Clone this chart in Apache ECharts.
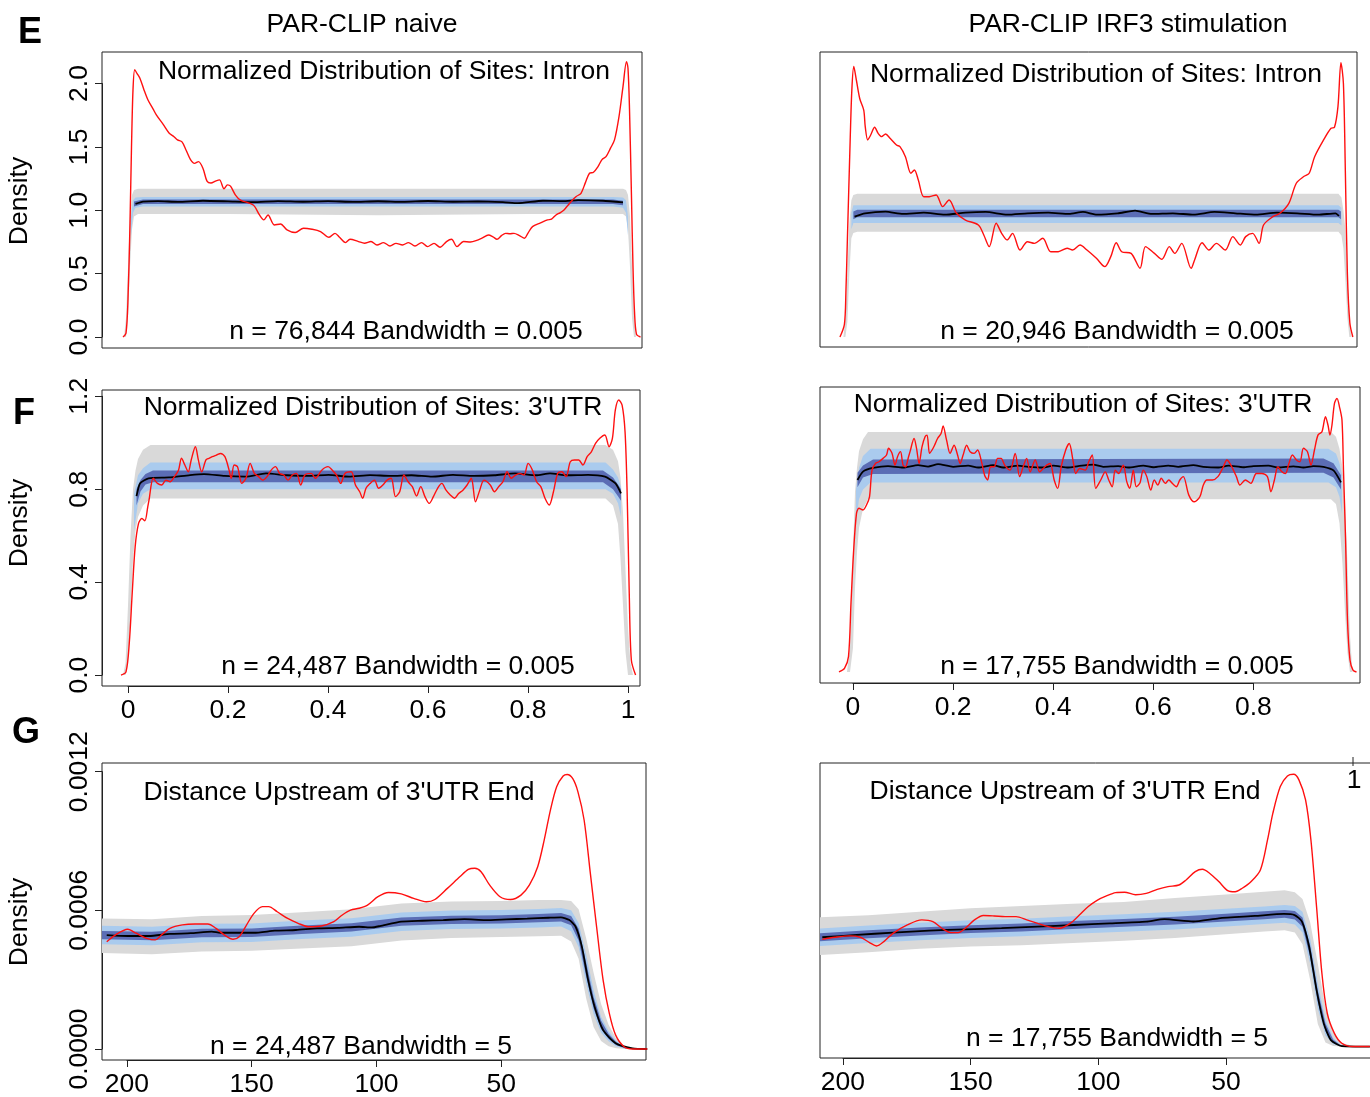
<!DOCTYPE html>
<html><head><meta charset="utf-8">
<script src="https://cdn.jsdelivr.net/npm/echarts@6/dist/echarts.min.js"></script>
<style>html,body{margin:0;padding:0;background:#fff}#c{width:1370px;height:1097px}</style>
</head><body><div id="c"></div>
<script>
// ---------------- DATA ----------------
// Tick labels
const eYTicks = [0, 0.5, 1.0, 1.5, 2.0];
const fYTicks = [0, 0.4, 0.8, 1.2];
const gYTicks = [0, 0.0006, 0.0012];
const fLeftXTicks = [0, 0.2, 0.4, 0.6, 0.8, 1];
const fRightXTicks = [0, 0.2, 0.4, 0.6, 0.8];
const gXTicks = [50, 100, 150, 200];

// E left: Intron, naive
const eLeftRed = [[-0.010,0],[-0.004,0.03],[0.000,0.30],[0.004,0.90],[0.007,1.50],[0.010,1.95],[0.0135,2.11],[0.018,2.08],[0.024,2.04],[0.032,1.95],[0.040,1.87],[0.050,1.80],[0.057,1.75],[0.070,1.68],[0.082,1.61],[0.092,1.58],[0.099,1.555],[0.108,1.54],[0.116,1.476],[0.125,1.40],[0.133,1.37],[0.141,1.384],[0.150,1.33],[0.158,1.23],[0.166,1.215],[0.175,1.23],[0.183,1.24],[0.192,1.17],[0.199,1.20],[0.205,1.19],[0.215,1.12],[0.225,1.08],[0.2505,1.042],[0.263,0.963],[0.2715,0.924],[0.280,0.963],[0.2925,0.884],[0.305,0.892],[0.318,0.845],[0.3345,0.824],[0.351,0.858],[0.368,0.850],[0.385,0.832],[0.402,0.787],[0.414,0.818],[0.423,0.787],[0.435,0.745],[0.444,0.771],[0.461,0.753],[0.473,0.740],[0.486,0.753],[0.498,0.726],[0.511,0.745],[0.524,0.718],[0.536,0.739],[0.549,0.726],[0.561,0.745],[0.574,0.718],[0.587,0.745],[0.599,0.713],[0.612,0.739],[0.624,0.708],[0.637,0.753],[0.647,0.771],[0.658,0.713],[0.671,0.753],[0.685,0.75],[0.696,0.76],[0.708,0.78],[0.721,0.805],[0.730,0.79],[0.738,0.771],[0.747,0.80],[0.755,0.818],[0.764,0.815],[0.772,0.818],[0.783,0.80],[0.793,0.779],[0.800,0.82],[0.809,0.871],[0.825,0.90],[0.839,0.924],[0.847,0.93],[0.856,0.963],[0.864,0.98],[0.872,1.003],[0.880,1.04],[0.889,1.081],[0.897,1.11],[0.906,1.134],[0.915,1.22],[0.923,1.292],[0.931,1.30],[0.940,1.345],[0.948,1.40],[0.956,1.423],[0.965,1.49],[0.973,1.555],[0.982,1.739],[0.990,1.976],[0.997,2.173],[1.000,2.12],[1.003,1.80],[1.007,1.10],[1.010,0.55],[1.013,0.20],[1.017,0.02],[1.025,0]];
const eLeftMean = [[0.015,1.05],[0.03,1.068],[0.06,1.072],[0.1,1.066],[0.15,1.075],[0.2,1.07],[0.25,1.064],[0.3,1.072],[0.35,1.067],[0.4,1.072],[0.45,1.066],[0.5,1.071],[0.55,1.066],[0.6,1.073],[0.65,1.067],[0.7,1.07],[0.75,1.064],[0.78,1.056],[0.83,1.075],[0.87,1.072],[0.9,1.08],[0.95,1.075],[0.99,1.062]];
const eLeftGrey = [[-0.008,0,0],[-0.004,0,0.15],[0,0.15,0.55],[0.004,0.55,0.95],[0.008,0.85,1.12],[0.012,0.95,1.16],[0.02,0.97,1.17],[0.2,0.97,1.17],[0.5,0.96,1.17],[0.8,0.97,1.17],[0.99,0.97,1.17],[0.996,0.95,1.16],[1.000,0.85,1.12],[1.004,0.55,0.95],[1.008,0.15,0.55],[1.012,0,0.15],[1.016,0,0]];
const eLeftLBlue = [[0.006,0.80,0.95],[0.010,0.98,1.08],[0.015,1.02,1.10],[0.03,1.03,1.105],[0.5,1.03,1.105],[0.97,1.03,1.105],[0.99,1.02,1.10],[0.996,0.98,1.08],[1.0,0.80,0.95]];
const eLeftDBlue = [[0.012,1.03,1.07],[0.03,1.05,1.085],[0.97,1.05,1.085],[0.99,1.04,1.075]];

// E right: Intron, IRF3
const eRightRed = [[-0.015,0],[-0.006,0.1],[-0.003,0.35],[0.0,0.77],[0.0056,1.55],[0.009,1.95],[0.0129,2.134],[0.018,2.03],[0.025,1.88],[0.033,1.79],[0.036,1.66],[0.041,1.555],[0.047,1.594],[0.055,1.655],[0.062,1.607],[0.069,1.581],[0.077,1.602],[0.086,1.568],[0.099,1.515],[0.106,1.502],[0.117,1.423],[0.128,1.292],[0.135,1.318],[0.143,1.239],[0.154,1.107],[0.165,1.107],[0.179,1.121],[0.192,1.029],[0.205,1.081],[0.220,0.976],[0.238,0.923],[0.264,0.884],[0.275,0.805],[0.286,0.713],[0.300,0.897],[0.311,0.818],[0.322,0.766],[0.333,0.818],[0.348,0.686],[0.363,0.752],[0.377,0.739],[0.394,0.779],[0.410,0.673],[0.425,0.673],[0.443,0.700],[0.454,0.686],[0.469,0.726],[0.483,0.686],[0.502,0.621],[0.519,0.555],[0.531,0.634],[0.542,0.744],[0.553,0.673],[0.572,0.660],[0.590,0.542],[0.601,0.713],[0.619,0.660],[0.634,0.613],[0.649,0.713],[0.660,0.660],[0.674,0.739],[0.693,0.542],[0.700,0.608],[0.715,0.744],[0.729,0.686],[0.744,0.739],[0.762,0.686],[0.777,0.792],[0.792,0.726],[0.803,0.792],[0.817,0.818],[0.830,0.739],[0.839,0.884],[0.858,0.950],[0.872,0.976],[0.890,1.055],[0.905,1.213],[0.920,1.266],[0.931,1.292],[0.942,1.423],[0.960,1.555],[0.975,1.647],[0.982,1.655],[0.989,1.818],[0.995,2.165],[1.000,2.0],[1.004,1.29],[1.008,0.50],[1.013,0.11],[1.019,0]];
const eRightMean = [[0.0145,0.95],[0.0355,0.976],[0.077,0.989],[0.112,0.971],[0.154,0.981],[0.196,0.965],[0.238,0.981],[0.279,0.987],[0.322,0.965],[0.363,0.976],[0.405,0.981],[0.447,0.971],[0.475,0.987],[0.503,0.965],[0.545,0.976],[0.580,0.997],[0.614,0.971],[0.656,0.976],[0.698,0.965],[0.740,0.987],[0.782,0.976],[0.824,0.965],[0.866,0.981],[0.907,0.976],[0.949,0.965],[0.984,0.976],[0.991,0.955]];
const eRightGrey = [[-0.008,0,0],[-0.004,0,0.15],[0,0.12,0.5],[0.004,0.5,0.9],[0.008,0.78,1.08],[0.012,0.82,1.12],[0.02,0.83,1.13],[0.5,0.83,1.13],[0.99,0.83,1.13],[0.996,0.80,1.10],[1.0,0.7,1.0],[1.004,0.45,0.85],[1.008,0.15,0.5],[1.012,0,0.15],[1.016,0,0]];
const eRightLBlue = [[0.008,0.85,0.98],[0.012,0.90,1.04],[0.99,0.90,1.04],[0.996,0.88,1.02]];
const eRightDBlue = [[0.012,0.93,0.99],[0.02,0.945,1.005],[0.99,0.945,1.005],[0.995,0.93,0.99]];

// F left: 3'UTR, naive
const fLeftRed = [[-0.014,0],[-0.004,0.014],[0.0025,0.136],[0.0084,0.352],[0.0143,0.552],[0.0211,0.653],[0.0278,0.674],[0.0337,0.664],[0.0396,0.725],[0.042,0.753],[0.0505,0.847],[0.059,0.825],[0.0674,0.818],[0.0758,0.839],[0.0842,0.832],[0.0927,0.854],[0.101,0.882],[0.107,0.933],[0.1137,0.904],[0.1205,0.875],[0.1264,0.926],[0.1348,0.983],[0.1407,0.926],[0.1474,0.875],[0.1559,0.926],[0.1618,0.933],[0.1685,0.940],[0.1769,0.947],[0.1853,0.954],[0.1938,0.940],[0.2022,0.882],[0.2064,0.847],[0.2123,0.904],[0.219,0.897],[0.2275,0.825],[0.2359,0.847],[0.2443,0.911],[0.2527,0.868],[0.2612,0.854],[0.2696,0.839],[0.278,0.854],[0.2864,0.882],[0.2949,0.897],[0.3033,0.868],[0.3117,0.861],[0.3201,0.839],[0.3286,0.861],[0.337,0.868],[0.3454,0.818],[0.3538,0.861],[0.3665,0.868],[0.3749,0.847],[0.3875,0.882],[0.4002,0.897],[0.4086,0.882],[0.417,0.861],[0.4254,0.825],[0.4339,0.868],[0.4465,0.875],[0.4549,0.818],[0.4634,0.789],[0.4693,0.761],[0.476,0.804],[0.4844,0.825],[0.4928,0.839],[0.5013,0.804],[0.5097,0.818],[0.5181,0.839],[0.5265,0.847],[0.535,0.768],[0.5434,0.789],[0.5518,0.861],[0.5602,0.832],[0.5687,0.811],[0.5771,0.771],[0.5855,0.811],[0.5939,0.768],[0.6024,0.739],[0.6108,0.768],[0.6192,0.804],[0.6276,0.825],[0.6361,0.796],[0.6445,0.775],[0.6529,0.761],[0.6613,0.782],[0.6698,0.796],[0.6782,0.818],[0.6866,0.847],[0.695,0.746],[0.7035,0.796],[0.7119,0.839],[0.7245,0.818],[0.7329,0.789],[0.7414,0.811],[0.7498,0.832],[0.7582,0.875],[0.7666,0.847],[0.7751,0.861],[0.7835,0.868],[0.7919,0.861],[0.8003,0.911],[0.8088,0.882],[0.8172,0.832],[0.8256,0.811],[0.834,0.761],[0.8425,0.732],[0.8509,0.789],[0.8593,0.868],[0.8677,0.875],[0.8762,0.854],[0.8846,0.918],[0.893,0.926],[0.9014,0.926],[0.9099,0.904],[0.9183,0.940],[0.9267,0.961],[0.9351,0.997],[0.9436,1.019],[0.9537,1.033],[0.9621,0.983],[0.9688,1.019],[0.9747,1.141],[0.9815,1.184],[0.9882,1.162],[0.9941,1.047],[0.9983,0.782],[1.0025,0.352],[1.0067,0.065],[1.0152,0]];
const fLeftMean = [[0.017,0.77],[0.024,0.825],[0.041,0.847],[0.082,0.851],[0.124,0.861],[0.152,0.865],[0.193,0.857],[0.235,0.854],[0.276,0.868],[0.318,0.860],[0.359,0.857],[0.401,0.862],[0.442,0.854],[0.484,0.861],[0.525,0.857],[0.567,0.860],[0.608,0.854],[0.650,0.862],[0.691,0.857],[0.733,0.860],[0.774,0.868],[0.816,0.860],[0.844,0.868],[0.878,0.860],[0.920,0.862],[0.954,0.854],[0.975,0.825],[0.986,0.782]];
const fLeftGrey = [[-0.010,0,0],[-0.005,0,0.05],[0,0.05,0.3],[0.005,0.25,0.6],[0.01,0.5,0.8],[0.015,0.62,0.88],[0.02,0.68,0.93],[0.03,0.73,0.97],[0.045,0.76,0.99],[0.5,0.76,0.99],[0.955,0.76,0.99],[0.97,0.73,0.97],[0.98,0.65,0.92],[0.985,0.5,0.85],[0.99,0.3,0.7],[0.995,0.1,0.45],[1.0,0,0.2],[1.005,0,0.05],[1.01,0,0]];
const fLeftLBlue = [[0.012,0.62,0.78],[0.02,0.74,0.86],[0.03,0.78,0.89],[0.045,0.80,0.915],[0.955,0.80,0.915],[0.97,0.78,0.885],[0.98,0.74,0.85],[0.986,0.68,0.81]];
const fLeftDBlue = [[0.017,0.73,0.80],[0.025,0.79,0.84],[0.035,0.82,0.865],[0.05,0.83,0.88],[0.95,0.83,0.88],[0.97,0.80,0.85],[0.98,0.77,0.82],[0.986,0.75,0.80]];

// F right: 3'UTR, IRF3
const fRightRed = [[-0.028,0],[-0.017,0.015],[-0.009,0.064],[-0.004,0.286],[0.001,0.494],[0.007,0.661],[0.012,0.682],[0.020,0.675],[0.027,0.696],[0.033,0.730],[0.038,0.841],[0.045,0.869],[0.052,0.876],[0.060,0.890],[0.067,0.904],[0.071,0.932],[0.078,0.911],[0.084,0.862],[0.089,0.897],[0.095,0.918],[0.100,0.862],[0.105,0.855],[0.111,0.897],[0.114,0.918],[0.122,0.973],[0.127,0.932],[0.132,0.869],[0.138,0.939],[0.144,0.980],[0.148,0.987],[0.153,0.911],[0.158,0.925],[0.163,0.945],[0.169,0.973],[0.176,0.994],[0.180,1.025],[0.187,0.966],[0.194,0.911],[0.202,0.945],[0.209,0.904],[0.214,0.869],[0.220,0.904],[0.227,0.945],[0.234,0.918],[0.242,0.911],[0.249,0.925],[0.256,0.883],[0.263,0.820],[0.269,0.800],[0.275,0.855],[0.282,0.855],[0.289,0.890],[0.296,0.890],[0.303,0.862],[0.314,0.841],[0.324,0.911],[0.333,0.814],[0.340,0.855],[0.347,0.890],[0.354,0.834],[0.364,0.883],[0.373,0.834],[0.380,0.848],[0.387,0.862],[0.394,0.869],[0.402,0.800],[0.409,0.765],[0.416,0.855],[0.425,0.925],[0.432,0.952],[0.440,0.876],[0.445,0.827],[0.453,0.848],[0.464,0.841],[0.471,0.876],[0.478,0.904],[0.485,0.765],[0.495,0.800],[0.504,0.834],[0.511,0.800],[0.518,0.772],[0.524,0.841],[0.531,0.827],[0.540,0.862],[0.547,0.793],[0.553,0.765],[0.560,0.841],[0.566,0.772],[0.573,0.786],[0.580,0.841],[0.587,0.814],[0.595,0.758],[0.602,0.800],[0.609,0.779],[0.616,0.807],[0.624,0.786],[0.631,0.800],[0.638,0.786],[0.646,0.772],[0.653,0.800],[0.660,0.814],[0.671,0.737],[0.682,0.709],[0.693,0.730],[0.700,0.779],[0.707,0.800],[0.718,0.800],[0.729,0.814],[0.740,0.855],[0.747,0.883],[0.755,0.862],[0.766,0.814],[0.773,0.779],[0.784,0.800],[0.795,0.786],[0.806,0.827],[0.817,0.827],[0.828,0.814],[0.835,0.751],[0.842,0.800],[0.849,0.855],[0.857,0.834],[0.864,0.827],[0.871,0.869],[0.878,0.904],[0.886,0.883],[0.893,0.876],[0.900,0.932],[0.908,0.918],[0.915,0.862],[0.922,0.925],[0.929,0.987],[0.937,1.001],[0.944,1.064],[0.949,1.029],[0.953,0.987],[0.957,1.029],[0.962,1.119],[0.967,1.140],[0.972,1.105],[0.977,1.050],[0.980,0.841],[0.984,0.564],[0.988,0.216],[0.993,0.050],[0.999,0.008],[1.006,0]];
const fRightMean = [[0.009,0.80],[0.02,0.835],[0.04,0.85],[0.07,0.858],[0.1,0.852],[0.13,0.862],[0.15,0.856],[0.17,0.866],[0.2,0.855],[0.23,0.86],[0.25,0.852],[0.28,0.862],[0.3,0.852],[0.33,0.86],[0.35,0.855],[0.38,0.852],[0.4,0.86],[0.43,0.852],[0.45,0.858],[0.48,0.864],[0.5,0.855],[0.53,0.858],[0.55,0.852],[0.58,0.86],[0.6,0.853],[0.63,0.86],[0.65,0.855],[0.68,0.862],[0.7,0.855],[0.73,0.852],[0.75,0.86],[0.78,0.853],[0.8,0.858],[0.83,0.86],[0.85,0.852],[0.88,0.857],[0.9,0.852],[0.92,0.858],[0.94,0.855],[0.96,0.84],[0.975,0.79]];
const fRightGrey = [[-0.012,0,0],[-0.006,0,0.1],[0,0.1,0.5],[0.004,0.35,0.75],[0.008,0.5,0.85],[0.012,0.6,0.92],[0.02,0.68,0.97],[0.03,0.72,1.0],[0.5,0.72,1.0],[0.955,0.72,1.0],[0.965,0.70,0.98],[0.972,0.62,0.93],[0.978,0.45,0.85],[0.983,0.25,0.70],[0.988,0.08,0.45],[0.993,0,0.15],[0.998,0,0]];
const fRightLBlue = [[0.006,0.62,0.76],[0.012,0.72,0.85],[0.02,0.76,0.90],[0.035,0.79,0.93],[0.95,0.79,0.93],[0.965,0.77,0.91],[0.972,0.73,0.87],[0.977,0.66,0.82]];
const fRightDBlue = [[0.009,0.77,0.83],[0.02,0.81,0.86],[0.04,0.825,0.885],[0.94,0.83,0.89],[0.96,0.81,0.87],[0.975,0.76,0.82]];

// G left: distance upstream of 3'UTR end, naive
const gLeftRed = [[208.1,4.64e-4],[204.7,4.93e-4],[199.7,5.18e-4],[196.3,5.01e-4],[192.1,4.79e-4],[188.7,4.72e-4],[186.2,4.93e-4],[182.8,5.22e-4],[177.8,5.37e-4],[172.7,5.41e-4],[167.6,5.41e-4],[164.3,5.22e-4],[160.9,4.93e-4],[157.5,4.75e-4],[155.0,4.86e-4],[152.5,5.29e-4],[149.1,5.87e-4],[145.7,6.16e-4],[143.2,6.16e-4],[139.8,5.94e-4],[135.6,5.65e-4],[131.4,5.44e-4],[127.2,5.29e-4],[122.1,5.32e-4],[117.1,5.51e-4],[113.7,5.80e-4],[110.4,6.01e-4],[107.0,6.09e-4],[103.6,6.23e-4],[99.4,6.59e-4],[95.2,6.77e-4],[90.1,6.71e-4],[85.1,6.52e-4],[80.0,6.37e-4],[76.6,6.47e-4],[71.6,6.95e-4],[66.5,7.46e-4],[63.2,7.77e-4],[60.6,7.82e-4],[58.1,7.67e-4],[54.7,7.10e-4],[50.5,6.59e-4],[46.3,6.47e-4],[42.1,6.66e-4],[38.7,7.10e-4],[35.4,7.89e-4],[32.8,9.04e-4],[30.3,10.34e-4],[27.8,11.35e-4],[25.2,11.81e-4],[23.6,11.88e-4],[21.4,11.71e-4],[19.3,11.14e-4],[16.8,9.91e-4],[14.3,7.60e-4],[11.8,5.29e-4],[9.2,2.99e-4],[6.7,1.54e-4],[4.2,0.61e-4],[0.8,0.10e-4],[-2.6,0],[-8.5,0]];
const gLeftMean = [[208.1,4.93e-4],[199.7,4.89e-4],[191.2,4.89e-4],[182.8,4.98e-4],[174.4,5.01e-4],[166.0,5.08e-4],[162.6,5.03e-4],[155.8,5.03e-4],[149.1,5.03e-4],[140.7,5.12e-4],[132.3,5.15e-4],[123.8,5.22e-4],[115.4,5.24e-4],[107.0,5.29e-4],[101.9,5.26e-4],[98.6,5.32e-4],[90.1,5.51e-4],[81.7,5.55e-4],[73.3,5.58e-4],[64.8,5.62e-4],[56.4,5.58e-4],[48.0,5.61e-4],[39.6,5.64e-4],[31.1,5.68e-4],[26.1,5.70e-4],[22.7,5.58e-4],[20.2,5.29e-4],[17.7,4.43e-4],[15.2,2.99e-4],[12.6,1.83e-4],[9.2,0.82e-4],[4.2,0.25e-4],[-2.6,0.03e-4],[-8.5,0]];
const gLeftGrey = [[210,4.15e-4,5.65e-4],[190,4.10e-4,5.62e-4],[170,4.22e-4,5.75e-4],[150,4.25e-4,5.80e-4],[130,4.35e-4,5.92e-4],[110,4.45e-4,6.05e-4],[90,4.70e-4,6.30e-4],[70,4.80e-4,6.38e-4],[50,4.85e-4,6.40e-4],[35,4.88e-4,6.45e-4],[26,4.90e-4,6.45e-4],[22,4.65e-4,6.40e-4],[19,3.90e-4,6.05e-4],[16,2.20e-4,4.80e-4],[13,0.95e-4,3.30e-4],[10,0.35e-4,1.95e-4],[7,0.12e-4,1.05e-4],[4,0.03e-4,0.45e-4],[0,0,0.08e-4],[-8,0,0]];
const gLeftLBlue = [[210,4.53e-4,5.33e-4],[190,4.49e-4,5.29e-4],[170,4.62e-4,5.42e-4],[150,4.63e-4,5.43e-4],[130,4.76e-4,5.56e-4],[110,4.86e-4,5.66e-4],[90,5.11e-4,5.91e-4],[70,5.19e-4,5.99e-4],[50,5.21e-4,6.01e-4],[35,5.26e-4,6.06e-4],[26,5.30e-4,6.10e-4],[22,5.10e-4,6.00e-4],[19,4.40e-4,5.45e-4],[16,2.85e-4,4.10e-4],[13,1.50e-4,2.55e-4],[10,0.70e-4,1.40e-4],[7,0.33e-4,0.78e-4],[4,0.12e-4,0.36e-4],[0,0.01e-4,0.04e-4],[-8,0,0]];
const gLeftDBlue = [[210,4.75e-4,5.11e-4],[190,4.71e-4,5.07e-4],[170,4.84e-4,5.20e-4],[150,4.85e-4,5.21e-4],[130,4.98e-4,5.34e-4],[110,5.08e-4,5.44e-4],[90,5.33e-4,5.69e-4],[70,5.41e-4,5.77e-4],[50,5.43e-4,5.79e-4],[35,5.48e-4,5.84e-4],[26,5.52e-4,5.88e-4],[22,5.35e-4,5.75e-4],[19,4.70e-4,5.20e-4],[16,3.15e-4,3.75e-4],[13,1.75e-4,2.25e-4],[10,0.87e-4,1.23e-4],[7,0.44e-4,0.66e-4],[4,0.17e-4,0.31e-4],[0,0.01e-4,0.03e-4],[-8,0,0]];

// G right: distance upstream of 3'UTR end, IRF3
const gRightRed = [[208.1,4.66e-4],[203.1,4.75e-4],[197.4,4.81e-4],[193.2,4.75e-4],[189.6,4.52e-4],[186.8,4.37e-4],[184.0,4.56e-4],[180.4,4.92e-4],[174.8,5.28e-4],[169.1,5.50e-4],[164.8,5.43e-4],[161.3,5.14e-4],[157.7,4.95e-4],[154.9,4.95e-4],[152.1,5.14e-4],[148.5,5.50e-4],[145.0,5.69e-4],[140.7,5.67e-4],[136.5,5.64e-4],[132.2,5.64e-4],[128.0,5.50e-4],[123.7,5.35e-4],[119.5,5.21e-4],[115.2,5.14e-4],[111.0,5.35e-4],[107.4,5.71e-4],[103.9,6.08e-4],[100.3,6.36e-4],[96.8,6.54e-4],[93.2,6.68e-4],[89.7,6.70e-4],[85.4,6.59e-4],[81.2,6.65e-4],[76.9,6.82e-4],[72.7,6.94e-4],[68.4,7.01e-4],[65.6,7.23e-4],[62.0,7.59e-4],[59.2,7.69e-4],[56.4,7.52e-4],[52.8,7.16e-4],[49.3,6.77e-4],[46.4,6.72e-4],[43.6,6.87e-4],[40.1,7.16e-4],[36.5,7.66e-4],[33.7,8.96e-4],[31.6,10.12e-4],[28.7,11.27e-4],[25.9,11.73e-4],[23.5,11.80e-4],[21.4,11.56e-4],[18.8,10.69e-4],[16.7,8.96e-4],[14.5,6.08e-4],[12.4,3.19e-4],[10.3,1.46e-4],[7.5,0.59e-4],[4.6,0.16e-4],[0.4,0.02e-4],[-6.4,0.02e-4]];
const gRightMean = [[208.1,4.75e-4],[194.6,4.85e-4],[180.4,4.95e-4],[166.3,5.04e-4],[152.1,5.09e-4],[137.9,5.14e-4],[123.7,5.21e-4],[109.5,5.28e-4],[95.4,5.35e-4],[81.2,5.43e-4],[74.1,5.53e-4],[62.8,5.43e-4],[52.8,5.57e-4],[38.6,5.67e-4],[27.3,5.76e-4],[23.1,5.71e-4],[20.2,5.43e-4],[17.4,4.34e-4],[14.5,2.47e-4],[11.7,1.03e-4],[8.9,0.30e-4],[4.6,0.04e-4],[-6.4,0.02e-4]];
const gRightGrey = [[209,3.98e-4,5.62e-4],[190,4.10e-4,5.70e-4],[170,4.25e-4,5.85e-4],[150,4.35e-4,6.00e-4],[130,4.40e-4,6.10e-4],[110,4.50e-4,6.20e-4],[90,4.60e-4,6.28e-4],[70,4.72e-4,6.45e-4],[50,4.88e-4,6.60e-4],[35,5.00e-4,6.72e-4],[27,5.05e-4,6.78e-4],[23,4.95e-4,6.70e-4],[20,4.45e-4,6.40e-4],[17,2.90e-4,5.40e-4],[14,1.00e-4,3.60e-4],[11,0.20e-4,1.70e-4],[8,0.04e-4,0.65e-4],[5,0.02e-4,0.18e-4],[0,0.01e-4,0.04e-4],[-8,0.01e-4,0.03e-4]];
const gRightLBlue = [[209,4.37e-4,5.13e-4],[190,4.50e-4,5.26e-4],[170,4.62e-4,5.38e-4],[150,4.72e-4,5.48e-4],[130,4.79e-4,5.55e-4],[110,4.90e-4,5.66e-4],[90,4.99e-4,5.75e-4],[70,5.09e-4,5.85e-4],[50,5.22e-4,5.98e-4],[35,5.32e-4,6.08e-4],[27,5.38e-4,6.14e-4],[23,5.30e-4,6.10e-4],[20,4.95e-4,5.85e-4],[17,3.60e-4,4.70e-4],[14,1.65e-4,2.75e-4],[11,0.50e-4,1.20e-4],[8,0.12e-4,0.40e-4],[5,0.03e-4,0.08e-4],[0,0.01e-4,0.03e-4],[-8,0.01e-4,0.03e-4]];
const gRightDBlue = [[209,4.58e-4,4.92e-4],[190,4.71e-4,5.05e-4],[170,4.83e-4,5.17e-4],[150,4.93e-4,5.27e-4],[130,5.00e-4,5.34e-4],[110,5.11e-4,5.45e-4],[90,5.20e-4,5.54e-4],[70,5.30e-4,5.64e-4],[50,5.43e-4,5.77e-4],[35,5.53e-4,5.87e-4],[27,5.59e-4,5.93e-4],[23,5.52e-4,5.88e-4],[20,5.20e-4,5.60e-4],[17,3.90e-4,4.40e-4],[14,1.95e-4,2.45e-4],[11,0.68e-4,1.02e-4],[8,0.18e-4,0.32e-4],[5,0.04e-4,0.06e-4],[0,0.02e-4,0.02e-4],[-8,0.02e-4,0.02e-4]];

// ---------------- LAYOUT ----------------
const FONT = '"Liberation Sans", Arial, Helvetica, sans-serif';
const FS = 26.5;
const panels = [
  {box:[102,52,642,348], xr:[-0.052,1.028], yr:[-0.087,2.249], red:eLeftRed, mean:eLeftMean, grey:eLeftGrey, lb:eLeftLBlue, db:eLeftDBlue, yTicks:eYTicks, yDec:1},
  {box:[820,52,1357,347], xr:[-0.0552,1.0274], yr:[-0.079,2.249], red:eRightRed, mean:eRightMean, grey:eRightGrey, lb:eRightLBlue, db:eRightDBlue},
  {box:[102,390,640,686], xr:[-0.052,1.024], yr:[-0.047,1.227], red:fLeftRed, mean:fLeftMean, grey:fLeftGrey, lb:fLeftLBlue, db:fLeftDBlue, yTicks:fYTicks, yDec:1, xTicks:fLeftXTicks},
  {box:[820,387,1360,683], xr:[-0.0659,1.013], yr:[-0.046,1.1875], red:fRightRed, mean:fRightMean, grey:fRightGrey, lb:fRightLBlue, db:fRightDBlue, xTicks:fRightXTicks},
  {box:[102,763,646,1060], xr:[-8,210], inverse:true, yr:[-0.476e-4,12.376e-4], red:gLeftRed, mean:gLeftMean, grey:gLeftGrey, lb:gLeftLBlue, db:gLeftDBlue, yTicks:gYTicks, yDec:4, xTicks:gXTicks},
  {box:[820,763,1375,1058], xr:[-8.4,209], inverse:true, yr:[-0.476e-4,12.29e-4], red:gRightRed, mean:gRightMean, grey:gRightGrey, lb:gRightLBlue, db:gRightDBlue, xTicks:gXTicks}
];

function mapX(p, v){ const [l,,r] = p.box; const f = p.inverse ? (p.xr[1]-v)/(p.xr[1]-p.xr[0]) : (v-p.xr[0])/(p.xr[1]-p.xr[0]); return l + f*(r-l); }
function mapY(p, v){ const [,t,,b] = p.box; return b - (v-p.yr[0])/(p.yr[1]-p.yr[0])*(b-t); }

const grids = [], xAxes = [], yAxes = [], series = [];
const axisCol = '#222';
function hiddenAxis(gi, min, max, inverse){ return {gridIndex:gi, type:'value', min, max, inverse:!!inverse, show:false, splitLine:{show:false}}; }

function band(ai, pts, color, z){
  return {type:'custom', coordinateSystem:'cartesian2d', xAxisIndex:ai, yAxisIndex:ai, clip:true, silent:true, z,
    data:[[pts[0][0], pts[0][1]]],
    renderItem:function(params, api){
      const up = pts.map(q => api.coord([q[0], q[2]]));
      const lo = pts.map(q => api.coord([q[0], q[1]])).reverse();
      return {type:'polygon', shape:{points: up.concat(lo)}, style:{fill: color}};
    }};
}

panels.forEach(p => {
  const [l,t,r,b] = p.box;
  const gi = grids.length;
  grids.push({left:l, top:t, width:r-l, height:b-t, show:true, borderColor:axisCol, borderWidth:1, backgroundColor:'transparent', containLabel:false, outerBoundsMode:'none'});
  xAxes.push(hiddenAxis(gi, p.xr[0], p.xr[1], p.inverse));
  yAxes.push(hiddenAxis(gi, p.yr[0], p.yr[1]));
  series.push(band(gi, p.grey, '#d9d9d9', 1));
  series.push(band(gi, p.lb, '#aacbee', 2));
  series.push(band(gi, p.db, '#5b6db5', 3));
  series.push({type:'line', xAxisIndex:gi, yAxisIndex:gi, data:p.mean, symbol:'none', smooth:0.2, clip:true, silent:true, z:4, lineStyle:{color:'#000', width:1.8}});
  series.push({type:'line', xAxisIndex:gi, yAxisIndex:gi, data:p.red, symbol:'none', smooth:0.3, clip:true, silent:true, z:5, lineStyle:{color:'#ff1010', width:1.4}});

  if (p.yTicks) {
    const lo = p.yTicks[0], hi = p.yTicks[p.yTicks.length-1];
    const top = mapY(p, hi), bot = mapY(p, lo);
    const g2 = grids.length;
    grids.push({left:l, top:top, width:r-l, height:bot-top, show:false, containLabel:false, outerBoundsMode:'none'});
    xAxes.push(hiddenAxis(g2, 0, 1));
    yAxes.push({gridIndex:g2, type:'value', position:'left', min:lo, max:hi, interval:p.yTicks[1]-p.yTicks[0],
      splitLine:{show:false}, axisLine:{show:true, onZero:false, lineStyle:{color:axisCol, width:1}},
      axisTick:{show:true, inside:false, length:7, lineStyle:{color:axisCol, width:1}},
      axisLabel:{rotate:90, margin:9, color:'#000', fontSize:FS, fontFamily:FONT, formatter:v => Number(v).toFixed(p.yDec)}});
  }
  if (p.xTicks) {
    const lo = p.xTicks[0], hi = p.xTicks[p.xTicks.length-1];
    const a = mapX(p, lo), c = mapX(p, hi);
    const left = Math.min(a,c), right = Math.max(a,c);
    const g3 = grids.length;
    grids.push({left:left, top:t, width:right-left, height:b-t, show:false, containLabel:false, outerBoundsMode:'none'});
    yAxes.push(hiddenAxis(g3, 0, 1));
    xAxes.push({gridIndex:g3, type:'value', position:'bottom', min:lo, max:hi, interval:p.xTicks[1]-p.xTicks[0], inverse:!!p.inverse,
      splitLine:{show:false}, axisLine:{show:true, onZero:false, lineStyle:{color:axisCol, width:1}},
      axisTick:{show:true, inside:false, length:7, lineStyle:{color:axisCol, width:1}},
      axisLabel:{margin:11, color:'#000', fontSize:FS, fontFamily:FONT, formatter:v => String(+Number(v).toFixed(2))}});
  }
});

// ---------------- TEXT ----------------
const labels = [
  {t:'E', x:30, y:33, bold:true, size:36},
  {t:'F', x:24, y:414, bold:true, size:36},
  {t:'G', x:26, y:733, bold:true, size:36},
  {t:'PAR-CLIP naive', x:362, y:25},
  {t:'PAR-CLIP IRF3 stimulation', x:1128, y:25},
  {t:'Density', x:20, y:201, rot:true},
  {t:'Density', x:20, y:523, rot:true},
  {t:'Density', x:20, y:922, rot:true},
  {t:'Normalized Distribution of Sites: Intron', x:384, y:72},
  {t:'Normalized Distribution of Sites: Intron', x:1096, y:75},
  {t:"Normalized Distribution of Sites: 3'UTR", x:373, y:408},
  {t:"Normalized Distribution of Sites: 3'UTR", x:1083, y:405},
  {t:"Distance Upstream of 3'UTR End", x:339, y:793},
  {t:"Distance Upstream of 3'UTR End", x:1065, y:792},
  {t:'n = 76,844 Bandwidth = 0.005', x:406, y:332},
  {t:'n = 20,946 Bandwidth = 0.005', x:1117, y:332},
  {t:'n = 24,487 Bandwidth = 0.005', x:398, y:667},
  {t:'n = 17,755 Bandwidth = 0.005', x:1117, y:667},
  {t:'n = 24,487 Bandwidth = 5', x:361, y:1047},
  {t:'n = 17,755 Bandwidth = 5', x:1117, y:1039},
  {t:'1', x:1354, y:781}
];
const graphic = labels.map(o => ({type:'text', x:o.x, y:o.y, rotation:o.rot ? Math.PI/2 : 0, silent:true, z:10,
  style:{text:o.t, fill:'#000', font:(o.bold?'bold ':'') + (o.size||FS) + 'px ' + FONT, textAlign:'center', textVerticalAlign:'middle'}}));
graphic.push({type:'line', shape:{x1:1353, y1:757, x2:1353, y2:766}, style:{stroke:axisCol, lineWidth:1}, silent:true});

const chart = echarts.init(document.getElementById('c'), null, {renderer:'canvas'});
chart.setOption({animation:false, backgroundColor:'#fff', grid:grids, xAxis:xAxes, yAxis:yAxes, series:series, graphic:graphic});
</script></body></html>
